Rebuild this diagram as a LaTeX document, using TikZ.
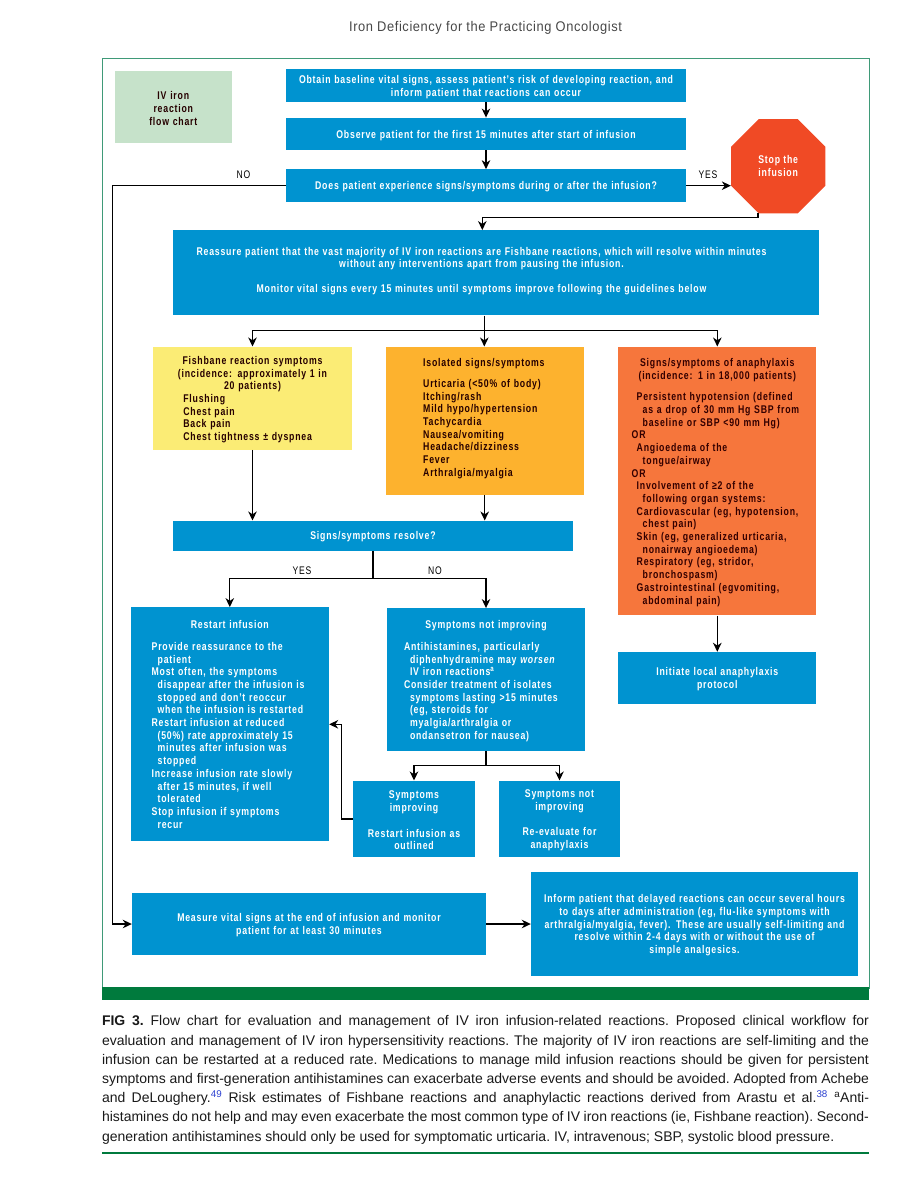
\documentclass[tikz,border=0pt]{standalone}
\usepackage{fontspec}
\usetikzlibrary{arrows.meta,shapes.geometric}
\newfontfamily\boxfont[LetterSpace=7,FakeStretch=.78]{Liberation Sans}
\newfontfamily\pagefont{Liberation Sans}
\newfontfamily\headfont[LetterSpace=4.2,FakeStretch=.92]{Liberation Sans}
\definecolor{ironblue}{HTML}{0093D0}
\definecolor{legendgreen}{HTML}{C6E2CA}
\definecolor{paleyellow}{HTML}{FBEC75}
\definecolor{amber}{HTML}{FDB22E}
\definecolor{burnt}{HTML}{F6763C}
\definecolor{stopred}{HTML}{F04A25}
\definecolor{bargreen}{HTML}{007A3D}
\definecolor{framegreen}{HTML}{3F9A78}
\definecolor{citeblue}{HTML}{2A3FD0}
\newcommand{\boxhead}[1]{\hspace*{-\leftskip}\makebox[\hsize][c]{#1}}
\newcommand{\contline}{\hspace*{6pt}}
\begin{document}
\begin{tikzpicture}[x=1pt, y=-1pt,
      >={Stealth[length=9pt, width=8.5pt, inset=2.8pt]},
      flowline/.style={draw=black, line width=1.3pt},
      basebox/.style={inner sep=0pt, font=\boxfont\bfseries\fontsize{11.2}{12.7}\selectfont, execute at begin node={\rule{0pt}{10.8pt}}},
      bluebox/.style={basebox, fill=ironblue, text=white, align=center},
      listbox/.style={basebox, fill=ironblue, text=white, align=left},
      darkbox/.style={basebox, text=black!85!red, align=left},
      tag/.style={inner sep=0pt, font=\boxfont\fontsize{11}{12}\selectfont, text=black}]
    \useasboundingbox (0,0) rectangle (903,1200);
    \node (header) [inner sep=0pt, font=\headfont\fontsize{14}{16}\selectfont, text=black!72] at (485.5,28) {Iron Deficiency for the Practicing Oncologist};
    \node (frame) [draw=framegreen, line width=.8pt, inner sep=0pt, minimum width=766.7pt, minimum height=930pt] at (485.6,523.3) {};
    \node (bar) [fill=bargreen, inner sep=0pt, minimum width=767.5pt, minimum height=12.5pt] at (485.6,993.7) {};
    \node (legend) [darkbox, fill=legendgreen, align=center, text width=117.3pt, minimum height=72pt] at (173.3,107) {IV iron\\reaction\\flow chart};
    \node (baseline) [bluebox, text width=400pt, minimum height=33pt] at (486,85.5) {Obtain baseline vital signs, assess patient’s risk of developing reaction, and\\inform patient that reactions can occur};
    \node (observe) [bluebox, text width=400pt, minimum height=32.5pt] at (486,134) {Observe patient for the first 15 minutes after start of infusion};
    \node (question) [bluebox, text width=400pt, minimum height=32.7pt] at (486,185.7) {Does patient experience signs/symptoms during or after the infusion?};
    \node (stop) [regular polygon, regular polygon sides=8, fill=stopred, text=white, inner sep=0pt, minimum size=102pt, align=center, font=\boxfont\bfseries\fontsize{11.2}{12.7}\selectfont] at (778.2,166.2) {Stop the\\infusion};
    \node (reassure) [bluebox, text width=645.4pt, minimum height=85pt] at (496,272.8) {\leftskip=0pt plus 1fill \rightskip=29pt plus 1fill \parfillskip=0pt
      Reassure patient that the vast majority of IV iron reactions are Fishbane reactions, which will resolve within minutes\\without any interventions apart from pausing the infusion.\\[12.3pt]Monitor vital signs every 15 minutes until symptoms improve following the guidelines below\par\vspace{6pt}};
    \node (fishbane) [darkbox, fill=paleyellow, text width=198.4pt, minimum height=103pt] at (252.5,398.2) {\leftskip=30pt
      \boxhead{Fishbane reaction symptoms}\\
      \boxhead{(incidence: approximately 1 in}\\
      \boxhead{20 patients)}\\
      Flushing\\
      Chest pain\\
      Back pain\\
      Chest tightness ± dyspnea\par};
    \node (isolated) [darkbox, fill=amber, text width=198pt, minimum height=148pt] at (484.7,420.7) {\leftskip=37.5pt
      Isolated signs/symptoms\\[8pt]
      Urticaria (<50\% of body)\\
      Itching/rash\\
      Mild hypo/hypertension\\
      Tachycardia\\
      Nausea/vomiting\\
      Headache/dizziness\\
      Fever\\
      Arthralgia/myalgia\par\vspace{7pt}};
    \node (anaphylaxis) [darkbox, fill=burnt, text=black!80!red, text width=198pt, minimum height=268.6pt] at (717.3,481) {\leftskip=13.4pt
      \boxhead{Signs/symptoms of anaphylaxis}\\
      \boxhead{(incidence: 1 in 18,000 patients)}\\[9pt]
      \hspace*{5pt}Persistent hypotension (defined\\
      \hspace*{11pt}as a drop of 30 mm Hg SBP from\\
      \hspace*{11pt}baseline or SBP <90 mm Hg)\\
      OR\\
      \hspace*{5pt}Angioedema of the\\
      \hspace*{11pt}tongue/airway\\
      OR\\
      \hspace*{5pt}Involvement of ≥2 of the\\
      \hspace*{11pt}following organ systems:\\
      \hspace*{5pt}Cardiovascular (eg, hypotension,\\
      \hspace*{11pt}chest pain)\\
      \hspace*{5pt}Skin (eg, generalized urticaria,\\
      \hspace*{11pt}nonairway angioedema)\\
      \hspace*{5pt}Respiratory (eg, stridor,\\
      \hspace*{11pt}bronchospasm)\\
      \hspace*{5pt}Gastrointestinal (egvomiting,\\
      \hspace*{11pt}abdominal pain)\par};
    \node (protocol) [bluebox, text width=198pt, minimum height=52pt] at (717.3,678) {Initiate local anaphylaxis\\protocol};
    \node (resolve) [bluebox, text width=399.4pt, minimum height=30pt] at (373,535.7) {Signs/symptoms resolve?};
    \node (restart) [listbox, text width=198.3pt, minimum height=234pt] at (229.8,724.3) {\leftskip=21pt
      \boxhead{Restart infusion}\\[9.5pt]
      Provide reassurance to the\\
      \contline patient\\
      Most often, the symptoms\\
      \contline disappear after the infusion is\\
      \contline stopped and don’t reoccur\\
      \contline when the infusion is restarted\\
      Restart infusion at reduced\\
      \contline (50\%) rate approximately 15\\
      \contline minutes after infusion was\\
      \contline stopped\\
      Increase infusion rate slowly\\
      \contline after 15 minutes, if well\\
      \contline tolerated\\
      Stop infusion if symptoms\\
      \contline recur\par\vspace{3pt}};
    \node (worsening) [listbox, text width=198.6pt, minimum height=142.7pt] at (486,679.6) {\leftskip=17.3pt
      \boxhead{Symptoms not improving}\\[9.5pt]
      Antihistamines, particularly\\
      \contline diphenhydramine may \textit{worsen}\\
      \contline IV iron reactions\textsuperscript{a}\\
      Consider treatment of isolates\\
      \contline symptoms lasting >15 minutes\\
      \contline (eg, steroids for\\
      \contline myalgia/arthralgia or\\
      \contline ondansetron for nausea)\par};
    \node (improving) [bluebox, text width=121.4pt, minimum height=76.6pt] at (414,819) {Symptoms\\improving\\[12.7pt]Restart infusion as\\outlined};
    \node (reevaluate) [bluebox, text width=121pt, minimum height=76.6pt] at (559.5,819) {Symptoms not\\improving\\[12.7pt]Re-evaluate for\\anaphylaxis};
    \node (measure) [bluebox, text width=354pt, minimum height=61.4pt] at (309,924) {Measure vital signs at the end of infusion and monitor\\patient for at least 30 minutes};
    \node (inform) [bluebox, text width=327pt, minimum height=104.3pt] at (694.5,923.8) {Inform patient that delayed reactions can occur several hours\\to days after administration (eg, flu-like symptoms with\\arthralgia/myalgia, fever). These are usually self-limiting and\\resolve within 2-4 days with or without the use of\\simple analgesics.};
    \node (yesstop) [tag] at (708,175) {YES};
    \node (nomeasure) [tag] at (243.5,175) {NO};
    \node (yesrestart) [tag] at (302,570.3) {YES};
    \node (noworse) [tag] at (435,570.3) {NO};
    \node (caption) [inner sep=0pt, text width=767pt, align=justify, font=\pagefont\fontsize{14}{19.2}\selectfont, text=black!90] at (485.5,1079.8) {\frenchspacing\textbf{FIG 3.} Flow chart for evaluation and management of IV iron infusion-related reactions. Proposed clinical workflow for\linebreak
      evaluation and management of IV iron hypersensitivity reactions. The majority of IV iron reactions are self-limiting and the\linebreak
      infusion can be restarted at a reduced rate. Medications to manage mild infusion reactions should be given for persistent\linebreak
      symptoms and first-generation antihistamines can exacerbate adverse events and should be avoided. Adopted from Achebe\linebreak
      and DeLoughery.\textsuperscript{\textcolor{citeblue}{49}} Risk estimates of Fishbane reactions and anaphylactic reactions derived from Arastu et al.\textsuperscript{\textcolor{citeblue}{38}} \textsuperscript{a}Anti-\linebreak
      histamines do not help and may even exacerbate the most common type of IV iron reactions (ie, Fishbane reaction). Second-\linebreak
      generation antihistamines should only be used for symptomatic urticaria. IV, intravenous; SBP, systolic blood pressure.\par};
    \node (footrule) [fill=bargreen, inner sep=0pt, minimum width=767.5pt, minimum height=1.4pt] at (485.6,1153) {};
    \coordinate (nocorner) at (112.7,185.7);
    \coordinate (stopfoot) at (758,213);
    \coordinate (stopelbow) at (758,217.7);
    \coordinate (reassuretop) at (482.3,217.7);
    \coordinate (splittop) at (484.3,330.7);
    \coordinate (splitlow) at (373,578.7);
    \coordinate (splitworse) at (486,765.7);
    \coordinate (backup) at (341.3,819);
    \draw [flowline, ->] (baseline.south) -- (observe.north);
    \draw [flowline, ->] (observe.south) -- (question.north);
    \draw [flowline, ->] (question.east) -- (question.east -| stop.west);
    \draw [flowline] (stopfoot) -- (stopelbow) -- (reassuretop);
    \draw [flowline, ->] (reassuretop) -- (reassuretop |- reassure.north);
    \draw [flowline, ->] (question.west) -- (nocorner) |- (measure.west);
    \draw [flowline, ->] (measure.east) -- (inform.west |- measure.east);
    \draw [flowline, ->] (splittop |- reassure.south) -- (splittop |- fishbane.north);
    \draw [flowline, ->] (splittop) -| (fishbane.north);
    \draw [flowline, ->] (splittop) -| (anaphylaxis.north);
    \draw [flowline, ->] (fishbane.south) -- (fishbane.south |- resolve.north);
    \draw [flowline, ->] (isolated.south) -- (isolated.south |- resolve.north);
    \draw [flowline] (resolve.south) -- (splitlow);
    \draw [flowline, ->] (splitlow) -| (restart.north);
    \draw [flowline, ->] (splitlow) -| (worsening.north);
    \draw [flowline, ->] (anaphylaxis.south) -- (protocol.north);
    \draw [flowline] (worsening.south) -- (splitworse);
    \draw [flowline, ->] (splitworse) -| (improving.north);
    \draw [flowline, ->] (splitworse) -| (reevaluate.north);
    \draw [flowline] (improving.west) -- (backup);
    \draw [flowline, ->] (backup) |- (restart.east);
  \end{tikzpicture}
\end{document}
